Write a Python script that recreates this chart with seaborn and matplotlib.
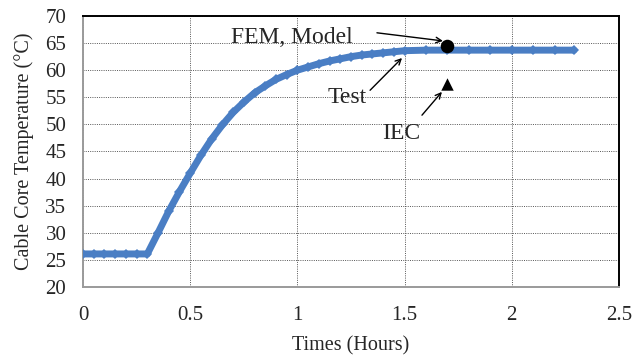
import numpy as np
import pandas as pd
import matplotlib
matplotlib.use("Agg")
import matplotlib.pyplot as plt
import seaborn as sns

# Measured cable core temperature (test)
time_h = [0.00, 0.05, 0.10, 0.15, 0.20, 0.25, 0.30, 0.35, 0.40, 0.45,
          0.50, 0.55, 0.60, 0.65, 0.70, 0.75, 0.80, 0.85, 0.90, 0.95,
          1.00, 1.05, 1.10, 1.15, 1.20, 1.25, 1.30, 1.35, 1.40, 1.45,
          1.50, 1.60, 1.70, 1.80, 1.90, 2.00, 2.10, 2.20, 2.29]
temp_c = [26.1, 26.1, 26.1, 26.1, 26.1, 26.1, 26.1, 30.0, 34.0, 37.6,
          41.0, 44.3, 47.3, 49.9, 52.2, 54.1, 55.8, 57.1, 58.3, 59.2,
          60.0, 60.6, 61.2, 61.7, 62.1, 62.5, 62.8, 63.0, 63.2, 63.4,
          63.6, 63.7, 63.7, 63.7, 63.7, 63.7, 63.7, 63.7, 63.7]

# Steady-state predictions
fem_time, fem_temp = [1.70], [64.5]
iec_time, iec_temp = [1.70], [57.5]

x_ticks = [0, 0.5, 1, 1.5, 2, 2.5]
x_tick_labels = ["0", "0.5", "1", "1.5", "2", "2.5"]
y_ticks = [20, 25, 30, 35, 40, 45, 50, 55, 60, 65, 70]

sns.set_style("white")
plt.rcParams["font.family"] = ["Liberation Serif", "DejaVu Serif"]

fig = plt.figure(figsize=(6.35, 3.58), dpi=100)
ax = fig.add_axes([83 / 635, 1 - 287 / 358, (619 - 83) / 635, (287 - 16) / 358])

df = pd.DataFrame({"t": time_h, "T": temp_c})
blue = "#4A7EC4"
sns.lineplot(data=df, x="t", y="T", ax=ax, color=blue, linewidth=5,
             marker="D", markersize=5.2, markeredgewidth=0, zorder=3)
sns.scatterplot(x=fem_time, y=fem_temp, ax=ax, color="black", marker="o",
                s=95, linewidth=0, zorder=5)
sns.scatterplot(x=iec_time, y=iec_temp, ax=ax, color="black", marker="^",
                s=80, linewidth=0, zorder=5)

ax.set_xlim(0, 2.5)
ax.set_ylim(20, 70)
ax.set_xticks(x_ticks)
ax.set_xticklabels(x_tick_labels)
ax.set_yticks(y_ticks)
ax.tick_params(axis="both", length=0, labelsize=15, pad=12)
ax.tick_params(axis="x", pad=14)

ax.grid(True, color="#555555", linestyle=(0, (1, 1.3)), linewidth=0.7)
ax.set_axisbelow(True)

for side in ("top", "right"):
    ax.spines[side].set_color("black")
    ax.spines[side].set_linewidth(1.4)
for side in ("left", "bottom"):
    ax.spines[side].set_color("#9a9a9a")
    ax.spines[side].set_linewidth(1.4)

ax.set_xlabel("Times (Hours)", fontsize=14.5, labelpad=8)
ax.set_ylabel("Cable Core Temperature (\u00b0C)", fontsize=14.5, labelpad=8)

arrow = dict(arrowstyle="->", color="black", lw=1.0, shrinkA=0, shrinkB=0)
ax.annotate("", xy=(1.679, 65.4), xytext=(1.371, 66.9), arrowprops=arrow)
ax.text(0.975, 66.1, "FEM, Model", fontsize=17, ha="center", va="center")
ax.annotate("", xy=(1.488, 62.25), xytext=(1.339, 56.3), arrowprops=arrow)
ax.text(1.231, 54.9, "Test", fontsize=17, ha="center", va="center")
ax.annotate("", xy=(1.674, 56.0), xytext=(1.581, 51.7), arrowprops=arrow)
ax.text(1.483, 48.4, "IEC", fontsize=17, ha="center", va="center")

fig.savefig("out.png", dpi=100)
